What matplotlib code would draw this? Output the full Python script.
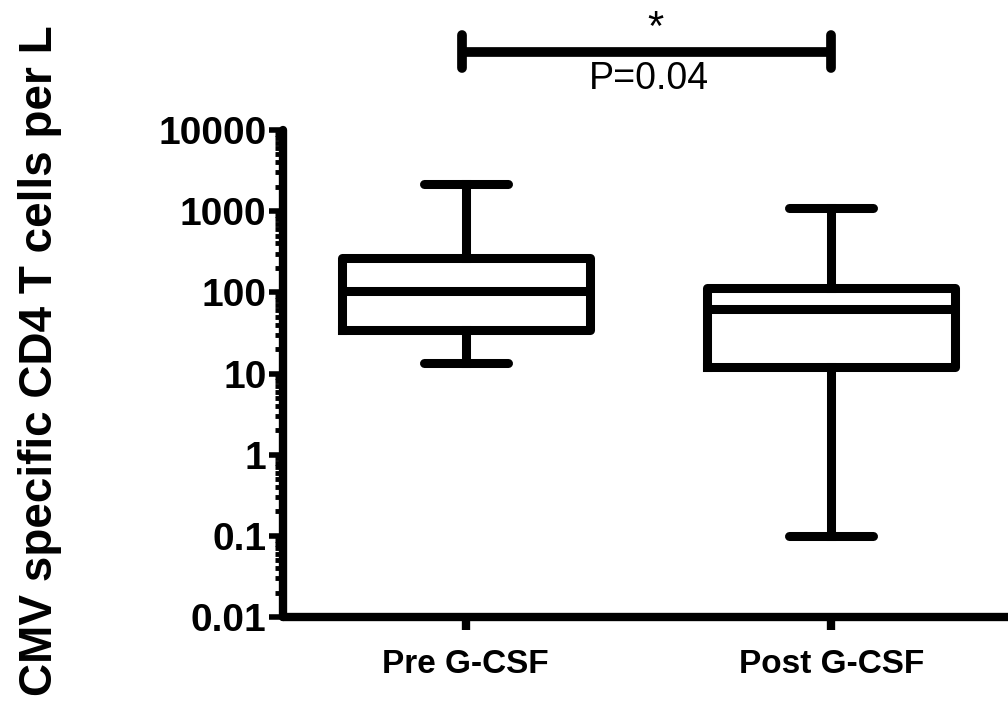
import matplotlib
matplotlib.use("Agg")
import matplotlib.pyplot as plt
from matplotlib.ticker import LogLocator, FixedLocator, NullFormatter

plt.rcParams['font.family'] = ['Liberation Sans', 'DejaVu Sans']

groups = ["Pre G-CSF", "Post G-CSF"]
whislo = [13.5, 0.1]
q1 = [34, 12]
med = [105, 62]
q3 = [265, 112]
whishi = [2150, 1100]
ytick_vals = [0.01, 0.1, 1, 10, 100, 1000, 10000]
ytick_labels = ["0.01", "0.1", "1", "10", "100", "1000", "10000"]

fig = plt.figure(figsize=(10.08, 7.05), dpi=100)
ax = fig.add_axes([0.2808, 0.1248, 0.725, 0.6908])

stats = []
for i, g in enumerate(groups):
    stats.append(dict(label=g, whislo=whislo[i], q1=q1[i], med=med[i],
                      q3=q3[i], whishi=whishi[i], fliers=[]))

lw = 6.5
ax.bxp(stats, positions=[1, 2], widths=0.68, showfliers=False,
       boxprops=dict(linewidth=lw, color='black', solid_joinstyle='round'),
       medianprops=dict(linewidth=lw, color='black', solid_capstyle='butt'),
       whiskerprops=dict(linewidth=lw, color='black'),
       capprops=dict(linewidth=lw, color='black', solid_capstyle='round'),
       capwidths=0.23)

ax.set_yscale('log')
ax.set_ylim(0.01, 10000)
ax.set_xlim(0.5, 2.5)

ax.yaxis.set_major_locator(FixedLocator(ytick_vals))
ax.set_yticklabels(ytick_labels)
ax.yaxis.set_minor_locator(LogLocator(base=10, subs=range(2, 10), numticks=20))
ax.yaxis.set_minor_formatter(NullFormatter())

for s in ['top', 'right']:
    ax.spines[s].set_visible(False)
for s in ['left', 'bottom']:
    ax.spines[s].set_linewidth(6)
    ax.spines[s].set_capstyle('round')

ax.tick_params(axis='y', which='major', length=10, width=4, pad=2,
               labelsize=28)
ax.tick_params(axis='y', which='minor', length=6, width=3.5)
ax.tick_params(axis='x', which='major', length=9, width=6, pad=14,
               labelsize=24)
for lab in ax.get_yticklabels() + ax.get_xticklabels():
    lab.set_fontweight('bold')

ax.set_ylabel("CMV specific CD4 T cells per L", fontsize=33,
              fontweight='bold')
ax.yaxis.set_label_coords(-0.302, 0.527)

# significance bracket
tr = ax.get_xaxis_transform()
ax.plot([0.99, 2.0], [1.16, 1.16], transform=tr, color='black', lw=7,
        clip_on=False, solid_capstyle='butt')
for xx in [0.99, 2.0]:
    ax.plot([xx, xx], [1.128, 1.195], transform=tr, color='black', lw=7,
            clip_on=False, solid_capstyle='round')
ax.text(1.52, 1.208, "*", transform=tr, ha='center', va='center',
        fontsize=30)
ax.text(1.5, 1.105, "P=0.04", transform=tr, ha='center', va='center',
        fontsize=27)

fig.savefig("out.png", dpi=100)
